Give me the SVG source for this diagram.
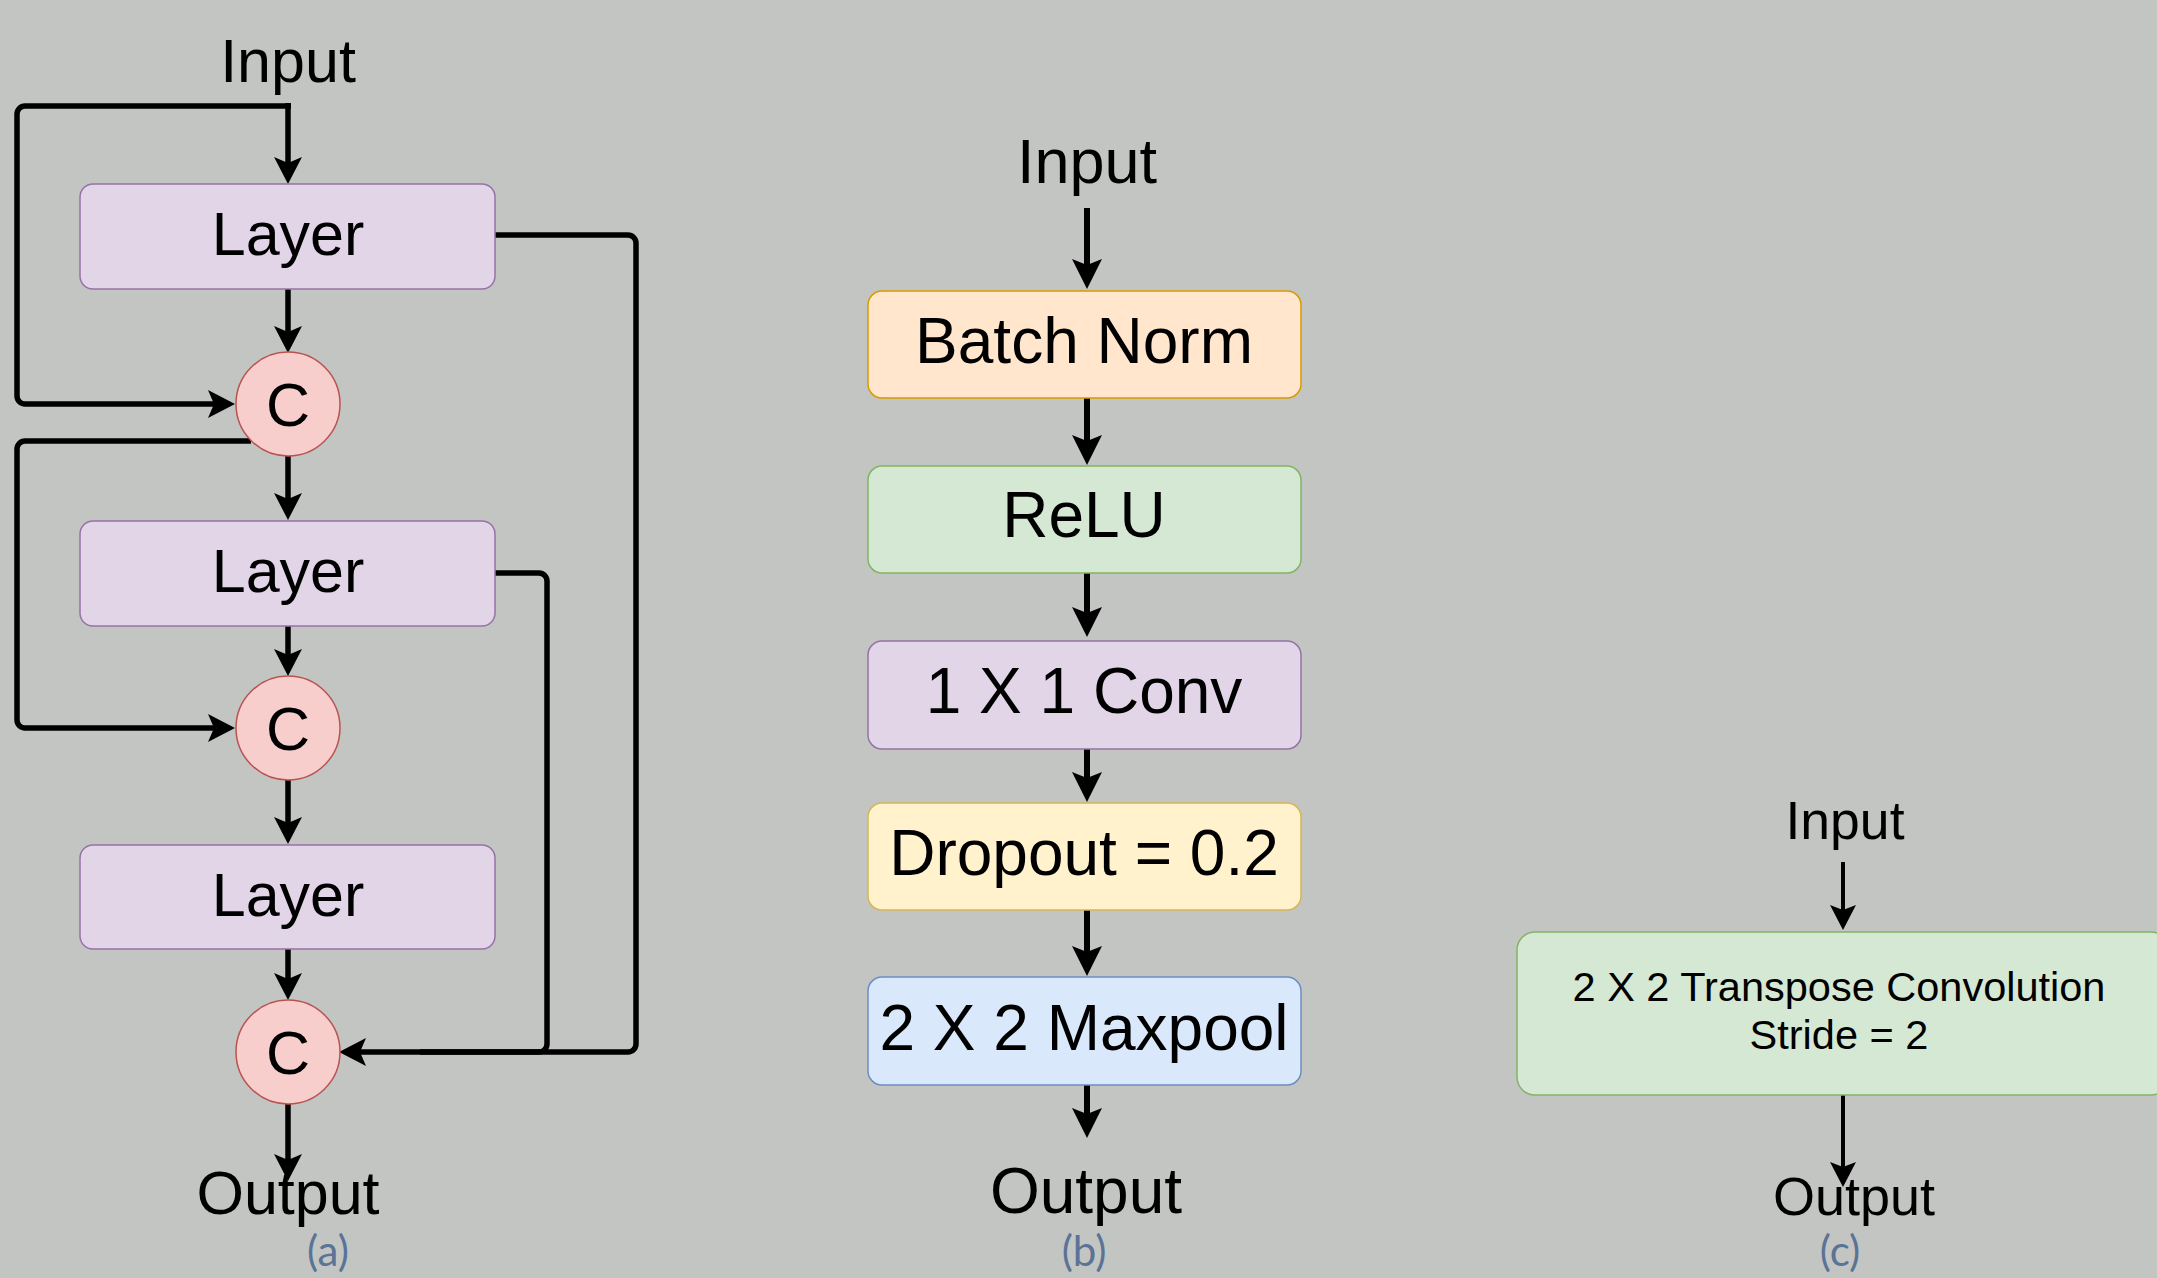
<svg xmlns="http://www.w3.org/2000/svg" width="2157" height="1278" viewBox="0 0 2157 1278">
<style>
.t{font-family:"Liberation Sans",Arial,sans-serif;fill:#000;text-anchor:middle}
.cap{font-family:Lato,"Open Sans",sans-serif;fill:#5a7397;text-anchor:middle;font-size:42px}
.purple{fill:#e1d5e7;stroke:#9673a6;stroke-width:1.5}
.red{fill:#f8cecc;stroke:#b85450;stroke-width:1.5}
.orange{fill:#ffe6cc;stroke:#d79b00;stroke-width:1.5}
.green{fill:#d5e8d4;stroke:#82b366;stroke-width:1.5}
.yellow{fill:#fff2cc;stroke:#d6b656;stroke-width:1.5}
.blue{fill:#dae8fc;stroke:#6c8ebf;stroke-width:1.5}
.la{fill:none;stroke:#000;stroke-width:5.5}
.lb{fill:none;stroke:#000;stroke-width:6}
.lc{fill:none;stroke:#000;stroke-width:4}
</style>
<defs>
<marker id="ahA" markerUnits="userSpaceOnUse" orient="auto" overflow="visible" markerWidth="40" markerHeight="40" refX="0" refY="0"><path d="M21,0 L-6,-14 L0,0 L-6,14 Z" fill="#000"/></marker>
<marker id="ahB" markerUnits="userSpaceOnUse" orient="auto" overflow="visible" markerWidth="40" markerHeight="40" refX="0" refY="0"><path d="M24,0 L-6,-15 L0,0 L-6,15 Z" fill="#000"/></marker>
<marker id="ahC" markerUnits="userSpaceOnUse" orient="auto" overflow="visible" markerWidth="40" markerHeight="40" refX="0" refY="0"><path d="M20,0 L-5,-13 L0,0 L-5,13 Z" fill="#000"/></marker>
</defs>
<rect x="0" y="0" width="2157" height="1278" fill="#c3c5c3"/>

<g id="connectors">
<!-- panel a -->
<path class="la" d="M288,103 V163" marker-end="url(#ahA)"/>
<path class="la" d="M291,106 H25 A8,8 0 0 0 17,114 V396 A8,8 0 0 0 25,404 H214" marker-end="url(#ahA)"/>
<path class="la" d="M288,289 V332" marker-end="url(#ahA)"/>
<path class="la" d="M251,441 H25 A8,8 0 0 0 17,449 V720 A8,8 0 0 0 25,728 H214" marker-end="url(#ahA)"/>
<path class="la" d="M288,456 V499" marker-end="url(#ahA)"/>
<path class="la" d="M288,626 V655" marker-end="url(#ahA)"/>
<path class="la" d="M288,780 V823" marker-end="url(#ahA)"/>
<path class="la" d="M288,949 V979" marker-end="url(#ahA)"/>
<path class="la" d="M495,235 H628 A8,8 0 0 1 636,243 V1044 A8,8 0 0 1 628,1052 H360" marker-end="url(#ahA)"/>
<path class="la" d="M495,573 H539 A8,8 0 0 1 547,581 V1044 A8,8 0 0 1 539,1052 H420"/>
<path class="la" d="M288,1104 V1160" marker-end="url(#ahA)"/>
<!-- panel b -->
<path class="lb" d="M1087,208 V265" marker-end="url(#ahB)"/>
<path class="lb" d="M1087,398 V441" marker-end="url(#ahB)"/>
<path class="lb" d="M1087,573 V613" marker-end="url(#ahB)"/>
<path class="lb" d="M1087,749 V778" marker-end="url(#ahB)"/>
<path class="lb" d="M1087,910 V952" marker-end="url(#ahB)"/>
<path class="lb" d="M1087,1085 V1114" marker-end="url(#ahB)"/>
<!-- panel c -->
<path class="lc" d="M1843,862 V910" marker-end="url(#ahC)"/>
<path class="lc" d="M1843,1095 V1167" marker-end="url(#ahC)"/>
</g>

<!-- panel a nodes -->
<g id="a-input"><text class="t" x="288" y="82" font-size="61">Input</text></g>
<g id="a-layer1"><rect class="purple" x="80" y="184" width="415" height="105" rx="13"/><text class="t" x="288" y="255" font-size="61">Layer</text></g>
<g id="a-c1"><circle class="red" cx="288" cy="404" r="52"/><text class="t" x="288" y="426" font-size="61">C</text></g>
<g id="a-layer2"><rect class="purple" x="80" y="521" width="415" height="105" rx="13"/><text class="t" x="288" y="592" font-size="61">Layer</text></g>
<g id="a-c2"><circle class="red" cx="288" cy="728" r="52"/><text class="t" x="288" y="750" font-size="61">C</text></g>
<g id="a-layer3"><rect class="purple" x="80" y="845" width="415" height="104" rx="13"/><text class="t" x="288" y="916" font-size="61">Layer</text></g>
<g id="a-c3"><circle class="red" cx="288" cy="1052" r="52"/><text class="t" x="288" y="1074" font-size="61">C</text></g>
<g id="a-output"><text class="t" x="288" y="1214" font-size="61">Output</text></g>
<g id="a-caption"><text class="cap" x="328" y="1266">(a)</text></g>

<!-- panel b nodes -->
<g id="b-input"><text class="t" x="1087" y="183" font-size="63">Input</text></g>
<g id="b-bn"><rect class="orange" x="868" y="291" width="433" height="107" rx="14"/><text class="t" x="1084" y="363" font-size="64">Batch Norm</text></g>
<g id="b-relu"><rect class="green" x="868" y="466" width="433" height="107" rx="14"/><text class="t" x="1084" y="537" font-size="64">ReLU</text></g>
<g id="b-conv"><rect class="purple" x="868" y="641" width="433" height="108" rx="14"/><text class="t" x="1084" y="713" font-size="64">1 X 1 Conv</text></g>
<g id="b-dropout"><rect class="yellow" x="868" y="803" width="433" height="107" rx="14"/><text class="t" x="1084" y="875" font-size="64">Dropout = 0.2</text></g>
<g id="b-maxpool"><rect class="blue" x="868" y="977" width="433" height="108" rx="14"/><text class="t" x="1084" y="1050" font-size="64">2 X 2 Maxpool</text></g>
<g id="b-output"><text class="t" x="1086" y="1213" font-size="64">Output</text></g>
<g id="b-caption"><text class="cap" x="1084" y="1266">(b)</text></g>

<!-- panel c nodes -->
<g id="c-input"><text class="t" x="1845" y="839" font-size="53.5">Input</text></g>
<g id="c-tconv"><rect class="green" x="1517" y="932" width="652" height="163" rx="18"/><text class="t" x="1839" y="1001" font-size="41.5">2 X 2 Transpose Convolution</text><text class="t" x="1839" y="1049" font-size="41.5">Stride = 2</text></g>
<g id="c-output"><text class="t" x="1854" y="1215" font-size="54">Output</text></g>
<g id="c-caption"><text class="cap" x="1840" y="1266">(c)</text></g>
</svg>
